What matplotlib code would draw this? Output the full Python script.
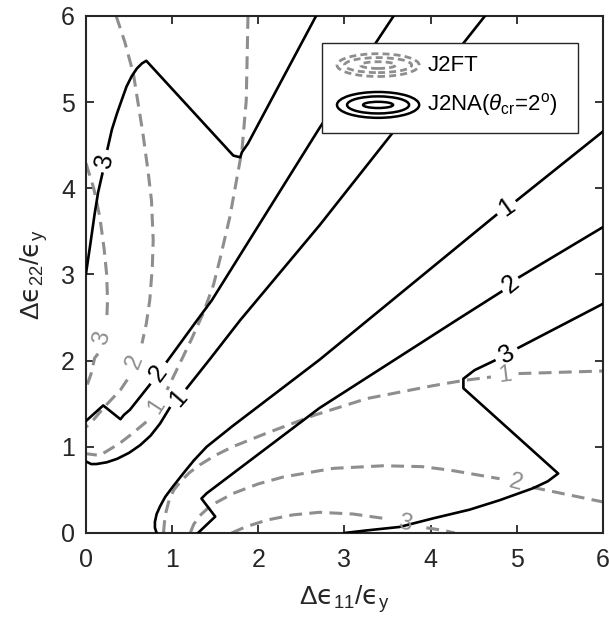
import numpy as np
import matplotlib
matplotlib.use("Agg")
import matplotlib.pyplot as plt
from matplotlib.patches import Ellipse, Rectangle

plt.rcParams['font.family'] = ['Liberation Sans', 'DejaVu Sans']
plt.rcParams['mathtext.fontset'] = 'custom'
plt.rcParams['mathtext.rm'] = 'Liberation Sans'
plt.rcParams['mathtext.it'] = 'Liberation Sans:italic'
plt.rcParams['mathtext.sf'] = 'DejaVu Sans'
plt.rcParams['mathtext.fallback'] = 'stixsans'

nan = np.nan

# J2NA contours (solid), nan = gap for the inline label
na_levels = ['3', '2', '1', '1', '2', '3']
na_x = [
    [0, 0.05, 0.10, 0.14, 0.19, nan, 0.25, 0.30, 0.36, 0.42, 0.47, 0.53, 0.59, 0.65, 0.70,
     1.71, 1.79, 1.81, 1.88, 2.67],
    [0, 0.20, 0.40, 0.44, 0.51, 0.74, nan, 0.94, 1.29, 1.46, 2.71, 3.57],
    [0, 0.06, 0.12, 0.24, 0.36, 0.50, 0.63, 0.75, 0.86, 0.97, nan, 1.17, 1.44, 1.79, 2.71, 4.63],
    [0.82, 0.80, 0.80, 0.82, 0.86, 0.92, 1.01, 1.12, 1.25, 1.40, 1.70, 2.71, 4.76, nan, 5.00, 6.0],
    [1.30, 1.50, 1.34, 1.40, 2.71, 4.30, 4.82, nan, 5.03, 6.0],
    [3.0, 3.26, 3.64, 4.03, 4.45, 4.80, 5.19, 5.36, 5.48, 4.38, 4.38, 4.51, 4.74, nan, 5.02, 6.0],
]
na_y = [
    [3.01, 3.35, 3.70, 3.95, 4.17, nan, 4.46, 4.68, 4.87, 5.04, 5.18, 5.30, 5.39, 5.45, 5.48,
     4.38, 4.36, 4.42, 4.52, 6.0],
    [1.30, 1.48, 1.32, 1.37, 1.43, 1.72, nan, 1.99, 2.47, 2.70, 4.70, 6.0],
    [0.83, 0.80, 0.80, 0.82, 0.86, 0.93, 1.02, 1.13, 1.27, 1.45, nan, 1.68, 2.02, 2.47, 3.57, 6.0],
    [0.0, 0.06, 0.13, 0.22, 0.31, 0.42, 0.54, 0.68, 0.84, 1.0, 1.24, 2.01, 3.69, nan, 3.86, 4.66],
    [0.0, 0.19, 0.40, 0.46, 1.45, 2.47, 2.80, nan, 2.97, 3.55],
    [0.0, 0.03, 0.07, 0.17, 0.27, 0.38, 0.52, 0.60, 0.69, 1.68, 1.79, 1.89, 2.00, nan, 2.15, 2.66],
]

# J2FT contours (dashed)
ft_levels = ['3', '2', '1', '1', '2', '3']
ft_x = [
    [0, 0.09, 0.16, 0.21, 0.24, 0.25, 0.24, nan, 0.14, 0.10, 0.06, 0],
    [0.35, 0.45, 0.55, 0.66, 0.72, 0.76, 0.78, 0.77, 0.74, 0.70, 0.65, nan, 0.48, 0.40, 0.22, 0.05, 0],
    [1.88, 1.86, 1.81, 1.67, 1.56, 1.48, 1.36, 1.22, 1.09, 0.94, nan, 0.70, 0.52, 0.39, 0.16, 0],
    [0.90, 0.91, 0.93, 0.97, 1.02, 1.10, 1.20, 1.32, 1.50, 1.70, 2.10, 2.66, 3.26, 4.03, 4.38, 4.70,
     nan, 5.02, 6.0],
    [1.21, 1.25, 1.32, 1.45, 1.71, 2.00, 2.29, 2.87, 3.45, 3.90, 4.22, 4.80, nan, 5.18, 6.0],
    [1.69, 1.85, 2.10, 2.40, 2.71, 3.10, 3.45, nan, 3.95, 4.15, 4.28],
]
ft_y = [
    [4.29, 4.00, 3.67, 3.30, 3.00, 2.70, 2.45, nan, 2.08, 2.03, 1.85, 1.68],
    [6.0, 5.70, 5.33, 4.64, 4.20, 3.86, 3.40, 3.09, 2.70, 2.43, 2.20, nan, 1.78, 1.66, 1.47, 1.27, 1.23],
    [6.0, 5.02, 4.44, 3.67, 3.20, 2.88, 2.55, 2.24, 1.97, 1.66, nan, 1.29, 1.14, 1.04, 0.90, 0.92],
    [0.0, 0.12, 0.25, 0.40, 0.50, 0.60, 0.70, 0.79, 0.90, 1.00, 1.16, 1.37, 1.56, 1.71, 1.77, 1.81,
     nan, 1.85, 1.88],
    [0.0, 0.10, 0.20, 0.32, 0.46, 0.57, 0.65, 0.75, 0.78, 0.77, 0.73, 0.63, nan, 0.53, 0.36],
    [0.0, 0.07, 0.15, 0.21, 0.24, 0.22, 0.17, nan, 0.06, 0.03, 0.0],
]

ticks = [0, 1, 2, 3, 4, 5, 6]

GRAY = '#8e8e8e'
FRAME = '#262626'


def label_gap(ax, xs, ys, text, color, size):
    xs = np.asarray(xs, float)
    ys = np.asarray(ys, float)
    k = int(np.where(np.isnan(xs))[0][0])
    x0, y0, x1, y1 = xs[k - 1], ys[k - 1], xs[k + 1], ys[k + 1]
    ang = np.degrees(np.arctan2(y1 - y0, x1 - x0))
    if ang > 90:
        ang -= 180
    elif ang < -90:
        ang += 180
    ax.text((x0 + x1) / 2, (y0 + y1) / 2, text, color=color, fontsize=size,
            rotation=ang, rotation_mode='anchor', ha='center', va='center', zorder=5)


fig = plt.figure(figsize=(6.09, 6.37), dpi=100)
ax = fig.add_axes([0.1412, 0.1633, 0.8489, 0.8116])

for xs, ys, lev in zip(ft_x, ft_y, ft_levels):
    ax.plot(xs, ys, color=GRAY, lw=2.2, dashes=(4.2, 2.4), zorder=2)
    label_gap(ax, xs, ys, lev, GRAY, 17)

for xs, ys, lev in zip(na_x, na_y, na_levels):
    ax.plot(xs, ys, color='black', lw=1.9, zorder=3)
    label_gap(ax, xs, ys, lev, 'black', 18)

ax.set_xlim(0, 6)
ax.set_ylim(0, 6)
ax.set_xticks(ticks)
ax.set_yticks(ticks)
ax.tick_params(direction='in', length=6, width=1.3, color=FRAME, labelsize=18,
               top=True, right=True, labelcolor=FRAME)
ax.tick_params(axis='x', pad=11)
ax.tick_params(axis='y', pad=8)
for sp in ax.spines.values():
    sp.set_color(FRAME)
    sp.set_linewidth(1.5)

eps = '\u03f5'
ax.set_xlabel(r'$\Delta\mathsf{%s}_{\rm 11}/\mathsf{%s}_{\rm y}$' % (eps, eps),
              fontsize=19, color=FRAME, labelpad=8)
ax.set_ylabel(r'$\Delta\mathsf{%s}_{\rm 22}/\mathsf{%s}_{\rm y}$' % (eps, eps),
              fontsize=19, color=FRAME, labelpad=8)

# legend drawn by hand (concentric ellipse icons like MATLAB contour legend)
ax.add_patch(Rectangle((0.456, 0.773), 0.496, 0.174, transform=ax.transAxes,
                       facecolor='white', edgecolor=FRAME, lw=1.0, zorder=6))
for w, h in [(0.159, 0.044), (0.13, 0.029), (0.068, 0.013)]:
    ax.add_patch(Ellipse((0.565, 0.905), w, h, transform=ax.transAxes, fill=False,
                         edgecolor=GRAY, lw=2.0, linestyle=(0, (2.5, 1.5)), zorder=7))
for w, h in [(0.159, 0.05), (0.12, 0.033), (0.058, 0.012)]:
    ax.add_patch(Ellipse((0.565, 0.828), w, h, transform=ax.transAxes, fill=False,
                         edgecolor='black', lw=1.8, zorder=7))
ax.text(0.66, 0.905, 'J2FT', transform=ax.transAxes, fontsize=16, va='center', zorder=8)
ax.text(0.66, 0.828, r'J2NA($\theta_{\rm cr}$=2$^{\rm o}$)', transform=ax.transAxes,
        fontsize=16, va='center', zorder=8)

fig.savefig('out.png', dpi=100)
